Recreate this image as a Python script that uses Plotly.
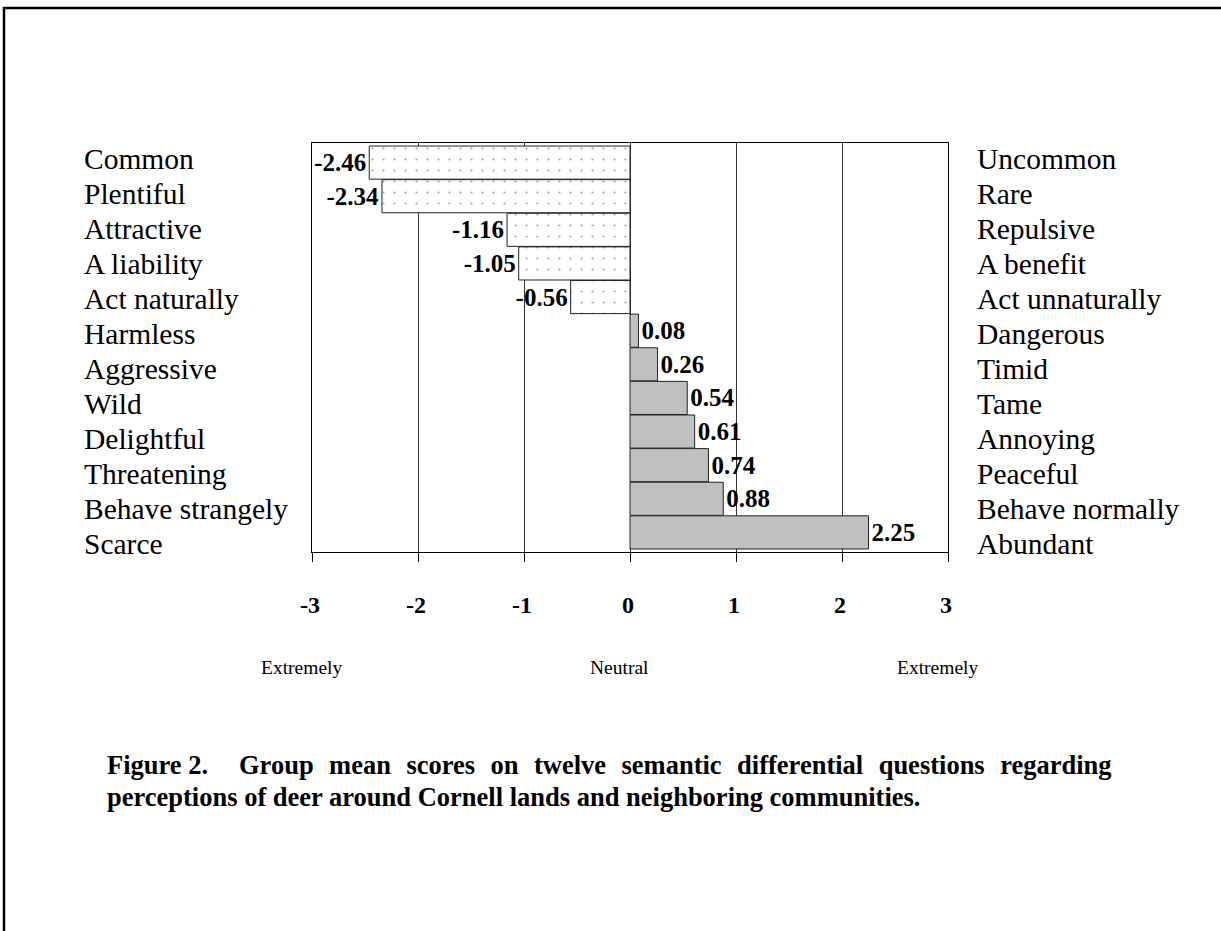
import plotly.graph_objects as go

# ---------------- data ----------------
left_labels = ["Common", "Plentiful", "Attractive", "A liability", "Act naturally",
               "Harmless", "Aggressive", "Wild", "Delightful", "Threatening",
               "Behave strangely", "Scarce"]
right_labels = ["Uncommon", "Rare", "Repulsive", "A benefit", "Act unnaturally",
                "Dangerous", "Timid", "Tame", "Annoying", "Peaceful",
                "Behave normally", "Abundant"]
scores = [-2.46, -2.34, -1.16, -1.05, -0.56, 0.08, 0.26, 0.54, 0.61, 0.74, 0.88, 2.25]
tick_vals = [-3, -2, -1, 0, 1, 2, 3]
tick_text = ["-3", "-2", "-1", "0", "1", "2", "3"]
scale_words = ["Extremely", "Neutral", "Extremely"]
scale_pos = [-3, 0, 3]
caption_words1 = ["Figure 2.", "", "Group", "mean", "scores", "on", "twelve", "semantic",
                  "differential", "questions", "regarding"]
caption_line2 = "perceptions of deer around Cornell lands and neighboring communities."

# ---------------- layout geometry (pixels) ----------------
W, H = 1221, 931
PL, PR, PT, PB = 312, 948, 143, 552


def px_x(p):
    return (p - PL) / (PR - PL)


def px_y(p):
    return (PB - p) / (PB - PT)


FONT = "Liberation Serif, Times New Roman, serif"

cats = list(range(len(left_labels)))
colors = ["white" if v < 0 else "#c0c0c0" for v in scores]
shapes_p = ["." if v < 0 else "" for v in scores]

fig = go.Figure()
fig.add_trace(go.Bar(
    x=scores, y=cats, orientation="h",
    marker=dict(color=colors,
                line=dict(color="#222222", width=1),
                pattern=dict(shape=shapes_p, fgcolor="#444444", bgcolor="white",
                             size=11, solidity=0.03)),
    text=[f"{v:.2f}" for v in scores], textposition="outside",
    textfont=dict(family=FONT, size=25, color="black", weight="bold"),
    constraintext="none", cliponaxis=False, showlegend=False, hoverinfo="skip",
))

annotations = []
for i, (l, r) in enumerate(zip(left_labels, right_labels)):
    annotations.append(dict(x=px_x(82), y=i, xref="paper", yref="y2", text=l,
                            xanchor="left", yanchor="middle", showarrow=False,
                            font=dict(family=FONT, size=29.5, color="black")))
    annotations.append(dict(x=px_x(975), y=i, xref="paper", yref="y2", text=r,
                            xanchor="left", yanchor="middle", showarrow=False,
                            font=dict(family=FONT, size=29.5, color="black")))
for w, p in zip(scale_words, scale_pos):
    annotations.append(dict(x=p, y=px_y(667), xref="x", yref="paper", text=w,
                            xanchor="center", yanchor="middle", showarrow=False, xshift=-11,
                            font=dict(family=FONT, size=19.5, color="black")))
# first caption line is justified in the original: widen the word gaps
caption_line1 = " &#8196;".join(caption_words1)
annotations.append(dict(x=px_x(105), y=px_y(765), xref="paper", yref="paper", text=caption_line1,
                        xanchor="left", yanchor="middle", align="left", showarrow=False,
                        font=dict(family=FONT, size=26.5, color="black", weight="bold")))
annotations.append(dict(x=px_x(105), y=px_y(797), xref="paper", yref="paper", text=caption_line2,
                        xanchor="left", yanchor="middle", align="left", showarrow=False,
                        font=dict(family=FONT, size=26.5, color="black", weight="bold")))

shapes = [
    dict(type="line", xref="paper", yref="paper", x0=px_x(3), x1=px_x(W + 5), y0=px_y(8), y1=px_y(8),
         line=dict(color="black", width=2.5)),
    dict(type="line", xref="paper", yref="paper", x0=px_x(4), x1=px_x(4), y0=px_y(7), y1=px_y(H + 5),
         line=dict(color="black", width=2.5)),
]

fig.update_layout(
    width=W, height=H,
    margin=dict(l=PL, r=W - PR, t=PT, b=H - PB, pad=0),
    paper_bgcolor="white", plot_bgcolor="white",
    bargap=0.015,
    font=dict(family=FONT, color="black"),
    xaxis=dict(range=[-3, 3], tickvals=tick_vals, ticktext=tick_text,
               showgrid=True, gridcolor="#333333", gridwidth=1,
               zeroline=True, zerolinecolor="#333333", zerolinewidth=1,
               showline=True, linecolor="black", linewidth=1, mirror=True,
               ticks="outside", ticklen=9, tickcolor="black",
               ticklabelstandoff=22, ticklabelshift=-2,
               tickfont=dict(family=FONT, size=24, color="black", weight="bold")),
    yaxis=dict(range=[11.583, -0.583], showgrid=False, zeroline=False,
               showticklabels=False, ticks="",
               showline=True, linecolor="black", linewidth=1, mirror=True),
    yaxis2=dict(range=[11.23, -0.456], overlaying="y", visible=False, showgrid=False),
    annotations=annotations,
    shapes=shapes,
)

fig.write_html("out.html", config={"displayModeBar": False},
               post_script="document.body.style.margin='0';document.body.style.overflow='hidden';")
